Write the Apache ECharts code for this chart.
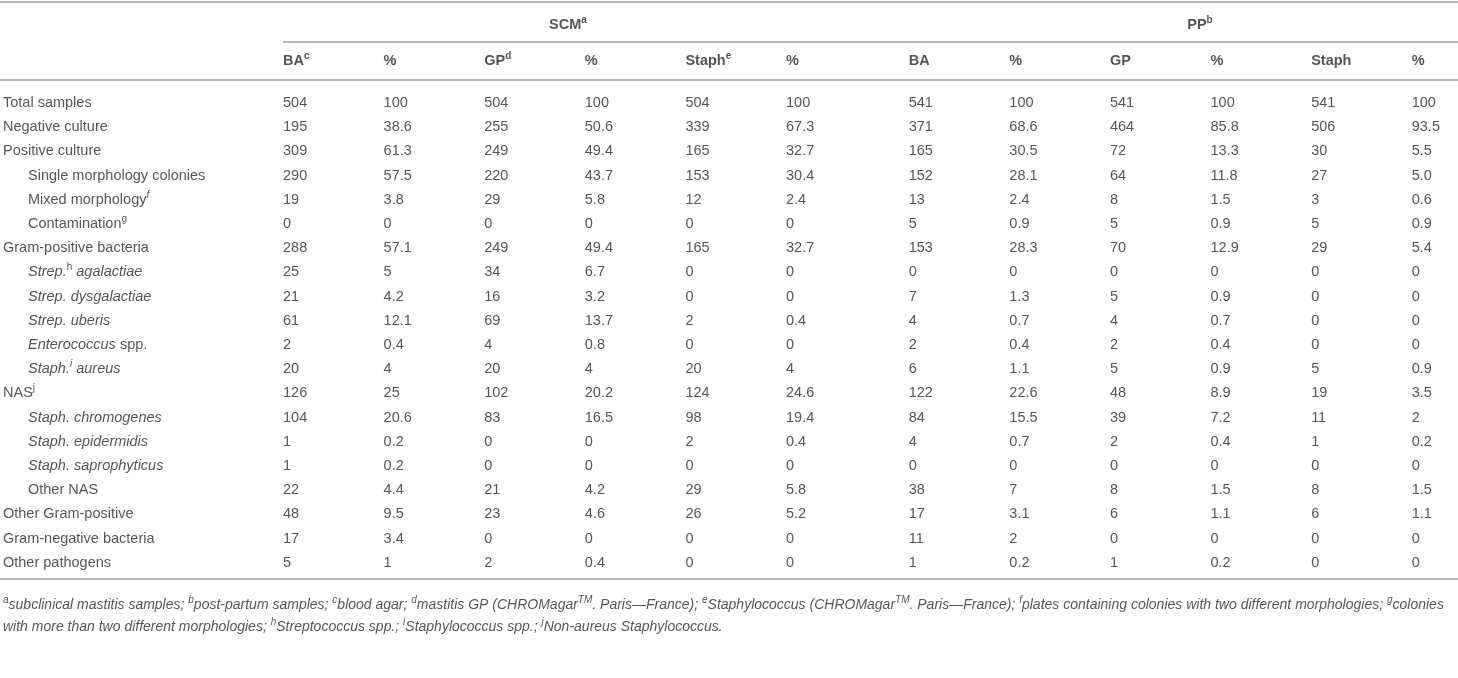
<!DOCTYPE html>
<html>
<head>
<meta charset="utf-8">
<script src="https://cdn.jsdelivr.net/npm/echarts@6/dist/echarts.min.js"></script>
<style>
  html, body { margin: 0; padding: 0; background: #fff; }
  #tbl { width: 1458px; height: 678px; }
</style>
</head>
<body>
<div id="tbl"></div>
<script>
// table rows (row labels, rich markup for italics / superscripts)
var rowLabels = [
  'Total samples', 'Negative culture', 'Positive culture',
  'Single morphology colonies', 'Mixed morphology{supi|f}', 'Contamination{sup|g}',
  'Gram-positive bacteria', '{i|Strep.}{sup|h}{i| agalactiae}', '{i|Strep. dysgalactiae}',
  '{i|Strep. uberis}', '{i|Enterococcus} spp.', '{i|Staph.}{supi|i}{i| aureus}',
  'NAS{sup|j}', '{i|Staph. chromogenes}', '{i|Staph. epidermidis}', '{i|Staph. saprophyticus}',
  'Other NAS', 'Other Gram-positive', 'Gram-negative bacteria', 'Other pathogens'
];
var rowIndent = [0,0,0,1,1,1,0,1,1,1,1,1,0,1,1,1,1,0,0,0];

var groups = ['SCM', 'PP'];
var groupSup = ['a', 'b'];
var colLabels = ['BA', '%', 'GP', '%', 'Staph', '%', 'BA', '%', 'GP', '%', 'Staph', '%'];
var colSup = ['c', '', 'd', '', 'e', '', '', '', '', '', '', ''];

// SCM
var scmBA       = [504,195,309,290,19,0,288,25,21,61,2,20,126,104,1,1,22,48,17,5];
var scmBAPct    = [100,38.6,61.3,57.5,3.8,0,57.1,5,4.2,12.1,0.4,4,25,20.6,0.2,0.2,4.4,9.5,3.4,1];
var scmGP       = [504,255,249,220,29,0,249,34,16,69,4,20,102,83,0,0,21,23,0,2];
var scmGPPct    = [100,50.6,49.4,43.7,5.8,0,49.4,6.7,3.2,13.7,0.8,4,20.2,16.5,0,0,4.2,4.6,0,0.4];
var scmStaph    = [504,339,165,153,12,0,165,0,0,2,0,20,124,98,2,0,29,26,0,0];
var scmStaphPct = [100,67.3,32.7,30.4,2.4,0,32.7,0,0,0.4,0,4,24.6,19.4,0.4,0,5.8,5.2,0,0];
// PP
var ppBA        = [541,371,165,152,13,5,153,0,7,4,2,6,122,84,4,0,38,17,11,1];
var ppBAPct     = [100,68.6,30.5,28.1,2.4,0.9,28.3,0,1.3,0.7,0.4,1.1,22.6,15.5,0.7,0,7,3.1,2,0.2];
var ppGP        = [541,464,72,64,8,5,70,0,5,4,2,5,48,39,2,0,8,6,0,1];
var ppGPPct     = [100,85.8,13.3,11.8,1.5,0.9,12.9,0,0.9,0.7,0.4,0.9,8.9,7.2,0.4,0,1.5,1.1,0,0.2];
var ppStaph     = [541,506,30,27,3,5,29,0,0,0,0,5,19,11,1,0,8,6,0,0];
var ppStaphPct  = [100,93.5,5.5,'5.0',0.6,0.9,5.4,0,0,0,0,0.9,3.5,2,0.2,0,1.5,1.1,0,0];

var columns = [scmBA, scmBAPct, scmGP, scmGPPct, scmStaph, scmStaphPct,
               ppBA, ppBAPct, ppGP, ppGPPct, ppStaph, ppStaphPct];

var footnotes = [
  '{si|a}subclinical mastitis samples; {si|b}post-partum samples; {si|c}blood agar; {si|d}mastitis GP (CHROMagar{si|TM}. Paris\u2014France); {si|e}Staphylococcus (CHROMagar{si|TM}. Paris\u2014France); {si|f}plates containing colonies with two different morphologies; {si|g}colonies',
  'with more than two different morphologies; {si|h}Streptococcus spp.; {si|i}Staphylococcus spp.; {si|j}Non-aureus Staphylococcus.'
];

// layout
var W = 1458, H = 678;
var firstCol = 283, colStep = 100.6, groupGap = 0.22;
var firstRow = 103, rowStep = 24.2;
function px2x(p) { return (p - firstCol) / colStep; }
function px2y(p) { return (p - firstRow) / rowStep; }
function colX(k) { return k + (k >= 6 ? groupGap : 0); }

var textColor = '#2b2b2b';
var font = 'Liberation Sans';
var rich = {
  i:    { fontStyle: 'italic', fontSize: 14.5, fontFamily: font, color: textColor },
  sup:  { fontSize: 10, verticalAlign: 'top', fontFamily: font, color: textColor },
  supi: { fontSize: 10, verticalAlign: 'top', fontStyle: 'italic', fontFamily: font, color: textColor },
  si:   { fontSize: 10, verticalAlign: 'top', fontStyle: 'italic', fontFamily: font, color: textColor },
  bs:   { fontSize: 10, verticalAlign: 'top', fontWeight: 'bold', fontFamily: font, color: textColor }
};
function lbl(extra) {
  var o = {
    show: true, position: 'right', distance: 0,
    formatter: function (p) { return p.value[2]; },
    color: textColor, fontSize: 14.5, fontFamily: font, lineHeight: 20, rich: rich
  };
  for (var k in extra) o[k] = extra[k];
  return o;
}

var cellData = [];
columns.forEach(function (col, k) {
  col.forEach(function (v, r) { cellData.push([colX(k), r, String(v)]); });
});
var labelData = rowLabels.map(function (t, r) {
  return [px2x(rowIndent[r] ? 28 : 3), r, t];
});
var headData = colLabels.map(function (t, k) {
  return [colX(k), px2y(61), t + (colSup[k] ? '{bs|' + colSup[k] + '}' : '')];
});
var groupData = [
  [px2x(568), px2y(25), groups[0] + '{bs|' + groupSup[0] + '}'],
  [px2x(1200), px2y(25), groups[1] + '{bs|' + groupSup[1] + '}']
];
var noteData = footnotes.map(function (t, i) {
  return [px2x(3), px2y(605 + i * 22), t];
});

var xMin = px2x(0), xMax = px2x(W);
function rule(x0, y) {
  return [{ coord: [x0, px2y(y)] }, { coord: [xMax, px2y(y)] }];
}

var chart = echarts.init(document.getElementById('tbl'));
chart.setOption({
  animation: false,
  grid: { left: 0, right: 0, top: 0, bottom: 0 },
  xAxis: { type: 'value', min: xMin, max: xMax, show: false },
  yAxis: { type: 'value', inverse: true, min: px2y(0), max: px2y(H), show: false },
  series: [
    {
      type: 'scatter', name: 'cells', symbolSize: 0, data: cellData, label: lbl({}),
      markLine: {
        silent: true, symbol: ['none', 'none'], label: { show: false },
        lineStyle: { color: '#b8b8b8', width: 2, type: 'solid' },
        data: [rule(xMin, 2), rule(px2x(283), 42), rule(xMin, 80), rule(xMin, 579)]
      }
    },
    { type: 'scatter', name: 'rows', symbolSize: 0, data: labelData, label: lbl({}) },
    { type: 'scatter', name: 'heads', symbolSize: 0, data: headData, label: lbl({ fontWeight: 'bold' }) },
    { type: 'scatter', name: 'groups', symbolSize: 0, data: groupData,
      label: lbl({ fontWeight: 'bold', position: 'inside' }) },
    { type: 'scatter', name: 'notes', symbolSize: 0, data: noteData,
      label: lbl({ fontStyle: 'italic', fontSize: 14 }) }
  ]
});
</script>
</body>
</html>
